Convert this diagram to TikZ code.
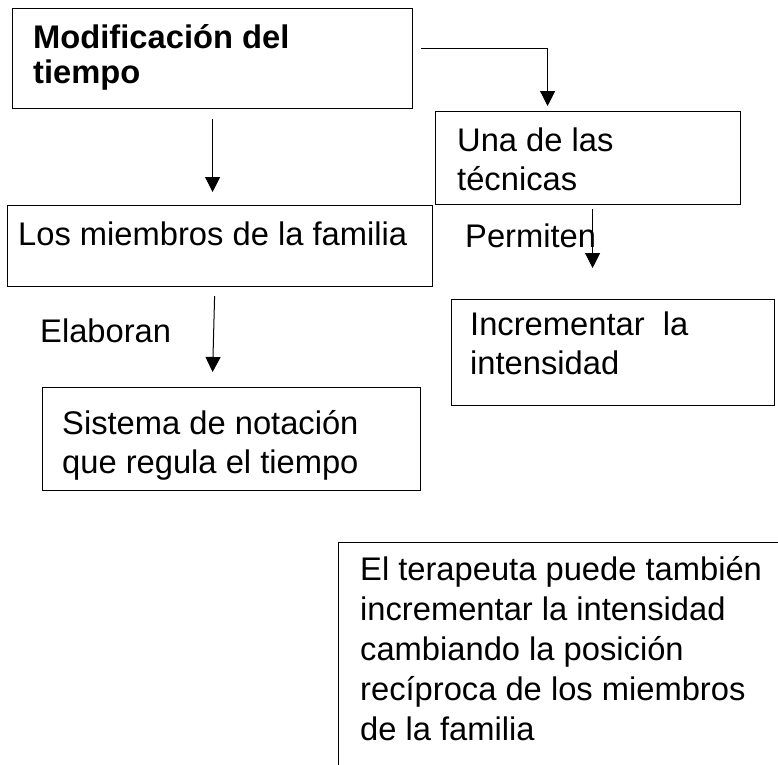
\documentclass[tikz,border=0pt]{standalone}
\usepackage{fontspec}
\setmainfont{Liberation Sans}
\usetikzlibrary{arrows.meta,calc}

\tikzset{
    caja/.style={draw, line width=1.2pt, inner sep=0pt, anchor=north west},
    texto/.style={font=\fontsize{32.7}{39}\selectfont, align=left, inner sep=0pt, anchor=base west},
    flecha/.style={line width=1pt, -{Triangle[length=15pt,width=15pt]}}
}

\begin{document}
\begin{tikzpicture}[x=1pt, y=-1pt]

\useasboundingbox (0,0) rectangle (778,764);
\clip (0,0) rectangle (778,764);

% 第一行
% 左上:标题
\node[caja, minimum width=400pt, minimum height=100pt] (cuadro1) at (12,8) {};
\node[texto, font=\fontsize{32.7}{35}\selectfont\bfseries] (t1) at (33,83) {Modificación del\\tiempo};

% 右上:técnicas
\node[caja, minimum width=305pt, minimum height=93pt] (cuadro2) at (435,111) {};
\node[texto] (t2) at (457,190) {Una de las\\técnicas};

% 第二行
% 左:familia
\node[caja, minimum width=425pt, minimum height=81pt] (cuadro3) at (7,205) {};
\node[texto] (t3) at (18,245) {Los miembros de la familia};

% 右:intensidad
\node[caja, minimum width=323pt, minimum height=106pt] (cuadro4) at (451,299) {};
\node[texto] (t4) at (470,374) {Incrementar\ \ la\\intensidad};

% 第三行
% 左:sistema
\node[caja, minimum width=378pt, minimum height=103pt] (cuadro5) at (42,387) {};
\node[texto] (t5) at (62,473) {Sistema de notación\\que regula el tiempo};

% 右下:terapeuta
\node[caja, minimum width=480pt, minimum height=260pt] (cuadro6) at (338,542) {};
\node[texto, font=\fontsize{32.7}{40}\selectfont] (t6) at (360,740) {El terapeuta puede también\\incrementar la intensidad\\cambiando la posición\\recíproca de los miembros\\de la familia};

% 标签
\node[texto] (elaboran) at (40,342) {Elaboran};
\node[texto] (permiten) at (465,247) {Permiten};

% 箭头
\draw[flecha] ($(cuadro1.south)+(0,10)$) -- ($(cuadro1.south |- cuadro3.north)+(0,-13)$);
\draw[flecha] ($(cuadro1.east)+(8,-10)$) -| ($(cuadro2.north)+(-40.5,-5)$);
\draw[flecha] ($(cuadro2.south)+(4.5,4)$) -- ($(cuadro2.south |- cuadro4.north)+(4.5,-31)$);
\draw[flecha] ($(cuadro3.south)+(-5.5,9)$) -- ($(cuadro5.north)+(-19,-15)$);

\end{tikzpicture}
\end{document}
